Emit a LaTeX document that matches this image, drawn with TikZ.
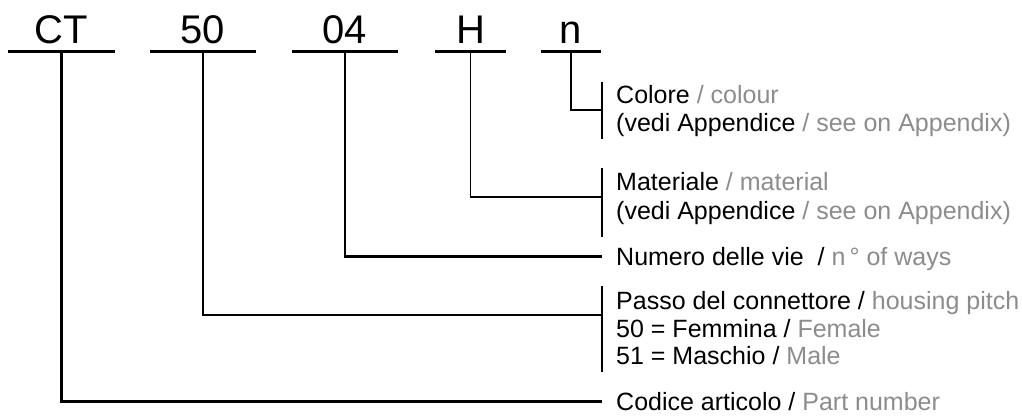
\documentclass[tikz,border=0pt]{standalone}
\usepackage{fontspec}
\setmainfont{Liberation Sans}
\definecolor{engl}{gray}{0.55}
\tikzset{
  code/.style={font=\fontsize{40}{44}\selectfont, anchor=base, inner sep=0pt, text depth=8pt, minimum width=#1},
  desc/.style={font=\fontsize{25}{29}\selectfont, anchor=base west, inner sep=0pt, text height=17pt, text depth=0pt},
  bar/.style={line width=3pt},
  drop/.style={line width=2.6pt},
  brk/.style={line width=2pt},
}
\begin{document}
\begin{tikzpicture}[x=1pt,y=-1pt]
    \useasboundingbox (0,0) rectangle (1022,415);
    % part code
    \node[code=107pt] (ct) at (61.5,43) {CT};
    \node[code=106pt] (pitch) at (203,43) {50};
    \node[code=106pt] (ways) at (345,43) {04};
    \node[code=71pt] (mat) at (470.5,43) {H};
    \node[code=60pt] (col) at (571,43) {n};
    \foreach \n in {ct,pitch,ways,mat,col}
        \draw[bar] (\n.south west) -- (\n.south east);
    % meaning of each field
    \node[desc] (colore) at (616,103) {Colore \textcolor{engl}{/ colour}};
    \node[desc] (colore2) at (616,131) {(vedi Appendice \textcolor{engl}{/ see on Appendix)}};
    \node[desc] (materiale) at (616,190) {Materiale \textcolor{engl}{/ material}};
    \node[desc] (materiale2) at (616,219) {(vedi Appendice \textcolor{engl}{/ see on Appendix)}};
    \node[desc] (numero) at (616,265) {Numero delle vie\ \ / \textcolor{engl}{n\,° of ways}};
    \node[desc] (passo) at (616,309) {Passo del connettore / \textcolor{engl}{housing pitch}};
    \node[desc] (passo2) at (616,337) {50 = Femmina / \textcolor{engl}{Female}};
    \node[desc] (passo3) at (616,364) {51 = Maschio / \textcolor{engl}{Male}};
    \node[desc] (codice) at (616,410) {Codice articolo / \textcolor{engl}{Part number}};
    % brackets
    \coordinate (colbrk) at (602,110);
    \coordinate (matbrk) at (602,197);
    \coordinate (pitchbrk) at (602,315);
    \draw[brk] (602,82) -- (602,139);
    \draw[brk] (602,168) -- (602,237);
    \draw[line width=1.2pt] (602,286) -- (602,372);
    % connectors
    \draw[brk] (col.south) |- (colbrk);
    \draw[line width=1.5pt] (mat.south) |- (matbrk);
    \draw[drop] (ways.south) |- ([xshift=-14pt]numero.west);
    \draw[drop] (pitch.south) |- (pitchbrk);
    \draw[drop] (ct.south) |- ([xshift=-14pt]codice.west);
\end{tikzpicture}
\end{document}
